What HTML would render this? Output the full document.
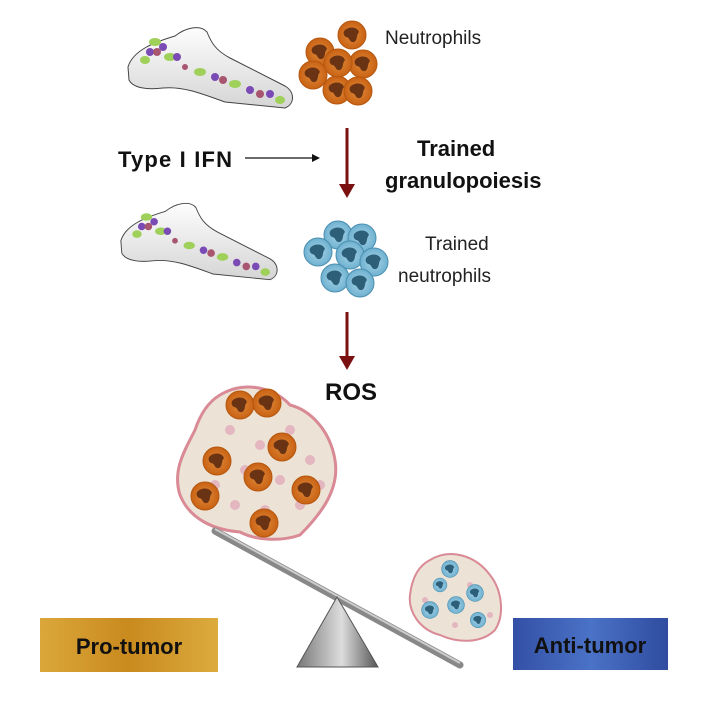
<!DOCTYPE html>
<html><head><meta charset="utf-8"><style>
html,body{margin:0;padding:0;background:#fff}
svg{display:block}
text{font-family:"Liberation Sans",sans-serif}
</style></head><body>
<svg width="702" height="702" viewBox="0 0 702 702" xmlns="http://www.w3.org/2000/svg">
<defs>
<linearGradient id="bone" x1="0" y1="0" x2="0" y2="1"><stop offset="0" stop-color="#fdfdfd"/><stop offset="1" stop-color="#d5d5d5"/></linearGradient>
<radialGradient id="og"><stop offset="0" stop-color="#e08a3a"/><stop offset="1" stop-color="#c96214"/></radialGradient>
<radialGradient id="bg"><stop offset="0" stop-color="#a8d4e8"/><stop offset="1" stop-color="#6fb1d0"/></radialGradient>
<linearGradient id="gold" x1="0" x2="1"><stop offset="0" stop-color="#dba73a"/><stop offset=".5" stop-color="#c98a1e"/><stop offset="1" stop-color="#dcab3e"/></linearGradient>
<linearGradient id="blue" x1="0" x2="1"><stop offset="0" stop-color="#3350a6"/><stop offset=".5" stop-color="#4a72c6"/><stop offset="1" stop-color="#2f4ca0"/></linearGradient>
<linearGradient id="tri" x1="0" x2="1"><stop offset="0" stop-color="#777"/><stop offset=".55" stop-color="#ddd"/><stop offset="1" stop-color="#555"/></linearGradient>
<marker id="ah" markerWidth="8" markerHeight="8" refX="6" refY="4" orient="auto" markerUnits="userSpaceOnUse"><path d="M0,0 L8,4 L0,8 Z" fill="#111"/></marker>
<g id="bonesh">
<path d="M3,45 C8,28 30,20 50,14 C60,6 75,2 82,10 C86,20 90,28 105,36 L160,64 C170,70 170,82 160,86 L100,80 C78,72 58,64 38,66 C22,68 8,66 4,58 Z" fill="url(#bone)" stroke="#444" stroke-width="1"/>
<g fill="#9fd15a"><ellipse cx="30" cy="20" rx="6" ry="4"/><ellipse cx="45" cy="35" rx="6" ry="4"/><ellipse cx="20" cy="38" rx="5" ry="4"/><ellipse cx="75" cy="50" rx="6" ry="4"/><ellipse cx="110" cy="62" rx="6" ry="4"/><ellipse cx="155" cy="78" rx="5" ry="4"/></g>
<g fill="#7a4bb5"><circle cx="38" cy="25" r="4"/><circle cx="25" cy="30" r="4"/><circle cx="52" cy="35" r="4"/><circle cx="90" cy="55" r="4"/><circle cx="125" cy="68" r="4"/><circle cx="145" cy="72" r="4"/></g>
<g fill="#a85570"><circle cx="32" cy="30" r="4"/><circle cx="60" cy="45" r="3"/><circle cx="98" cy="58" r="4"/><circle cx="135" cy="72" r="4"/></g>
</g>
<g id="on"><circle r="14" fill="url(#og)" stroke="#b5570f"/><path d="M-7,-5 C-2,-9 5,-8 7,-3 C4,0 6,5 2,7 C-3,8 -2,2 -6,2 C-9,0 -9,-3 -7,-5Z" fill="#6a3313"/></g>
<g id="bn"><circle r="14" fill="url(#bg)" stroke="#4a8fb0"/><path d="M-7,-5 C-2,-9 5,-8 7,-3 C4,0 6,5 2,7 C-3,8 -2,2 -6,2 C-9,0 -9,-3 -7,-5Z" fill="#2e5f78"/></g>
</defs>

<use href="#bonesh" transform="translate(125,22)"/>
<use href="#bonesh" transform="translate(118,198) scale(0.95)"/>

<use href="#on" x="320" y="52"/><use href="#on" x="352" y="35"/><use href="#on" x="313" y="75"/><use href="#on" x="363" y="64"/><use href="#on" x="337" y="90"/><use href="#on" x="358" y="91"/><use href="#on" x="338" y="63"/>
<text x="385" y="44" font-size="19" fill="#222">Neutrophils</text>

<line x1="347" y1="128" x2="347" y2="188" stroke="#7a1010" stroke-width="3"/>
<path d="M339,184 L347,198 L355,184 Z" fill="#7a1010"/>
<text x="118" y="167" font-size="22" font-weight="bold" fill="#111" textLength="114">Type I IFN</text>
<line x1="245" y1="158" x2="318" y2="158" stroke="#111" stroke-width="1.3" marker-end="url(#ah)"/>
<text x="417" y="156" font-size="22" font-weight="bold" fill="#111">Trained</text>
<text x="385" y="188" font-size="22" font-weight="bold" fill="#111">granulopoiesis</text>

<use href="#bn" x="338" y="235"/><use href="#bn" x="362" y="238"/><use href="#bn" x="318" y="252"/><use href="#bn" x="350" y="255"/><use href="#bn" x="374" y="262"/><use href="#bn" x="335" y="278"/><use href="#bn" x="360" y="283"/>
<text x="425" y="250" font-size="19" fill="#222">Trained</text>
<text x="398" y="282" font-size="19" fill="#222">neutrophils</text>

<line x1="347" y1="312" x2="347" y2="360" stroke="#7a1010" stroke-width="3"/>
<path d="M339,356 L347,370 L355,356 Z" fill="#7a1010"/>
<text x="325" y="400" font-size="24" font-weight="bold" fill="#111">ROS</text>

<path d="M220,395 C245,380 275,388 290,405 C310,410 330,430 335,460 C340,490 320,515 300,535 C280,542 255,540 240,532 C215,530 190,520 180,495 C172,470 185,450 195,430 C200,415 208,402 220,395 Z" fill="#ece3d6" stroke="#d98a95" stroke-width="3"/>
<g fill="#e3b6c0"><circle cx="230" cy="430" r="5"/><circle cx="260" cy="445" r="5"/><circle cx="290" cy="430" r="5"/><circle cx="310" cy="460" r="5"/><circle cx="245" cy="470" r="5"/><circle cx="280" cy="480" r="5"/><circle cx="215" cy="485" r="5"/><circle cx="300" cy="505" r="5"/><circle cx="235" cy="505" r="5"/><circle cx="265" cy="510" r="5"/><circle cx="320" cy="485" r="5"/></g>
<use href="#on" x="240" y="405"/><use href="#on" x="267" y="403"/><use href="#on" x="282" y="447"/><use href="#on" x="217" y="461"/><use href="#on" x="258" y="477"/><use href="#on" x="306" y="490"/><use href="#on" x="205" y="496"/><use href="#on" x="264" y="523"/>

<line x1="215" y1="531" x2="460" y2="665" stroke="#888" stroke-width="7" stroke-linecap="round"/>
<line x1="215" y1="529" x2="460" y2="663" stroke="#ccc" stroke-width="2"/>
<path d="M337,597 L297,667 L378,667 Z" fill="url(#tri)" stroke="#555" stroke-width="1"/>

<path d="M430,560 C450,548 475,555 490,575 C502,590 505,615 495,630 C480,645 455,642 440,635 C420,630 408,612 410,595 C412,578 418,566 430,560 Z" fill="#ece3d6" stroke="#d98a95" stroke-width="2"/>
<g fill="#e3b6c0"><circle cx="425" cy="600" r="3"/><circle cx="470" cy="585" r="3"/><circle cx="455" cy="625" r="3"/><circle cx="490" cy="615" r="3"/></g>
<use href="#bn" transform="translate(450,569) scale(0.6)"/><use href="#bn" transform="translate(440,585) scale(0.5)"/><use href="#bn" transform="translate(475,593) scale(0.6)"/><use href="#bn" transform="translate(456,605) scale(0.6)"/><use href="#bn" transform="translate(430,610) scale(0.6)"/><use href="#bn" transform="translate(478,620) scale(0.55)"/>

<rect x="40" y="618" width="178" height="54" fill="url(#gold)"/>
<text x="129" y="654" font-size="22" font-weight="bold" fill="#111" text-anchor="middle">Pro-tumor</text>
<rect x="513" y="618" width="155" height="52" fill="url(#blue)"/>
<text x="590" y="653" font-size="22" font-weight="bold" fill="#111" text-anchor="middle">Anti-tumor</text>
</svg>
</body></html>
